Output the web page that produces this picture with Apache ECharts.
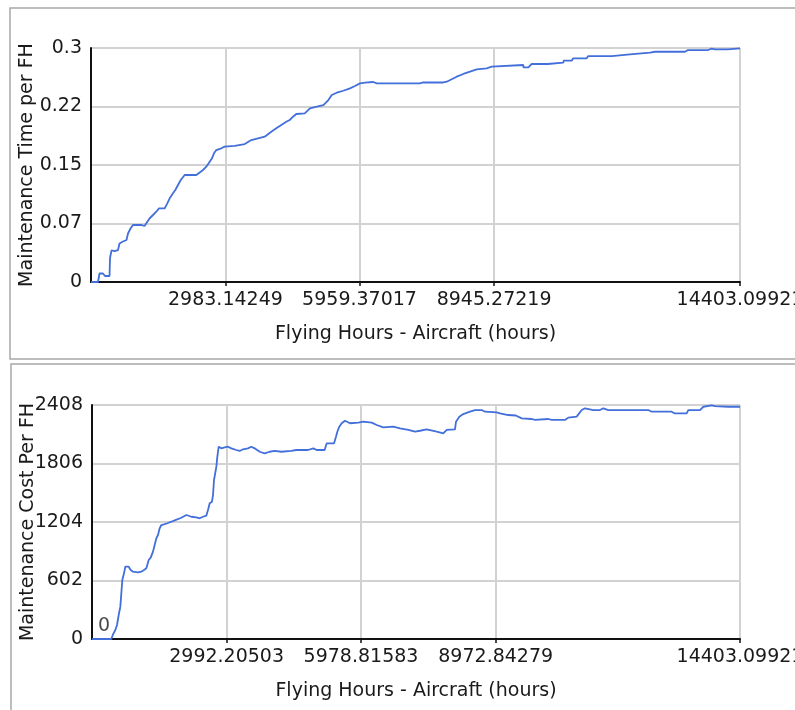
<!DOCTYPE html>
<html>
<head>
<meta charset="utf-8">
<script src="https://cdn.jsdelivr.net/npm/echarts@6/dist/echarts.min.js"></script>
<style>
html,body{margin:0;padding:0;background:#fff;}
#chart{width:795px;height:710px;}
</style>
</head>
<body>
<div id="chart"></div>
<script>
// ---- Data ----
const timeHours = [0,155,189,266,311,411,422,455,522,555,599,633,710,788,821,877,932,1110,1187,1254,1298,1376,1454,1509,1636,1693,1747,1820,1871,1931,1991,2079,2337,2435,2486,2559,2612,2685,2730,2781,2892,2967,3189,3411,3558,3706,3855,4001,4112,4223,4334,4410,4483,4556,4743,4750,4860,5009,5157,5268,5343,5453,5599,5748,5859,5970,6081,6265,6341,7302,7368,7819,7894,8005,8116,8263,8411,8560,8782,8893,8929,9594,9599,9705,9780,10135,10150,10482,10491,10668,10704,11001,11036,11556,11962,12406,12517,13183,13249,13700,13775,13848,14137,14181,14403];
const timeValues = [0,0,0.0109,0.0109,0.0077,0.0077,0.0308,0.0404,0.0397,0.0372,0.0410,0.0494,0.0519,0.0538,0.0622,0.0686,0.0731,0.0731,0.0718,0.0776,0.0814,0.0859,0.0904,0.0945,0.0945,0.1009,0.1073,0.1137,0.1179,0.1244,0.1308,0.1372,0.1372,0.1414,0.1436,0.1478,0.1522,0.1586,0.1650,0.1692,0.1714,0.1735,0.1744,0.1769,0.1820,0.1842,0.1863,0.1927,0.1970,0.2013,0.2055,0.2077,0.2119,0.2154,0.2163,0.2184,0.2227,0.2247,0.2269,0.2333,0.2397,0.2427,0.2452,0.2483,0.2513,0.2547,0.2555,0.2564,0.2547,0.2547,0.2558,0.2558,0.2568,0.2599,0.2632,0.2667,0.2696,0.2727,0.2740,0.2760,0.2773,0.2782,0.2752,0.2752,0.2795,0.2795,0.2812,0.2812,0.2838,0.2838,0.2868,0.2868,0.2897,0.2897,0.2919,0.2940,0.2952,0.2952,0.2974,0.2974,0.2993,0.2983,0.2983,0.2995,0.2995];

const costHours = [0,429,467,519,556,593,630,652,674,711,741,778,815,860,911,1022,1096,1156,1208,1260,1304,1356,1393,1430,1467,1504,1541,1600,1675,1763,1852,1985,2097,2134,2208,2319,2393,2467,2541,2578,2616,2667,2690,2712,2749,2764,2786,2816,2875,2949,3023,3097,3208,3282,3356,3467,3541,3615,3727,3838,3949,4060,4208,4430,4541,4801,4919,4994,5170,5217,5380,5423,5453,5497,5550,5623,5735,5920,6031,6217,6328,6475,6697,6846,7031,7180,7291,7439,7662,7808,7884,8068,8091,8164,8253,8401,8513,8661,8735,8995,9069,9253,9420,9551,9773,9847,10142,10218,10513,10587,10773,10885,10958,11143,11291,11365,11476,12365,12440,12885,12943,13218,13254,13514,13588,13774,13848,14143,14181,14292,14403];
const costValues = [0,0,48,93,144,247,333,470,607,676,744,761,744,710,693,686,693,710,727,813,837,899,967,1036,1070,1139,1173,1180,1191,1207,1224,1248,1276,1276,1258,1252,1242,1258,1269,1327,1396,1413,1482,1636,1654,1773,1876,1979,1962,1973,1979,1962,1945,1935,1952,1962,1979,1962,1927,1911,1927,1935,1927,1935,1945,1945,1962,1945,1945,2014,2014,2082,2133,2185,2220,2246,2220,2226,2236,2226,2202,2178,2185,2168,2151,2133,2143,2158,2133,2117,2151,2158,2236,2288,2315,2339,2356,2356,2339,2333,2322,2305,2300,2271,2264,2254,2264,2254,2254,2278,2288,2356,2374,2356,2356,2374,2356,2356,2339,2339,2322,2322,2356,2356,2390,2405,2397,2390,2374,2390,2390];

const timeXTicks = [2983.14249, 5959.37017, 8945.27219, 14403.09921];
const costXTicks = [2992.20503, 5978.81583, 8972.84279, 14403.09921];
const timeYTickLabels = ['0','0.07','0.15','0.22','0.3'];
const costYTickLabels = ['0','602','1204','1806','2408'];
const xMax = 14403.09921;

// ---- Chart ----
const FONT = 'DejaVu Sans';
const TXT = '#1a1a1a';
const FS = 19;

function pairs(xs, ys){ return xs.map((x,i)=>[x, ys[i]]); }

function xAxis(gridIndex, ticks){
  return {
    type:'value', gridIndex, min:0, max:xMax,
    name:'Flying Hours - Aircraft (hours)', nameLocation:'middle', nameGap:43,
    nameMoveOverlap:false,
    nameTextStyle:{fontFamily:FONT,fontSize:FS,color:TXT},
    axisLine:{show:true,lineStyle:{color:'#111',width:2}},
    axisTick:{show:true,customValues:ticks,length:4,lineStyle:{color:'#111',width:1.5}},
    axisLabel:{customValues:ticks,margin:9,fontFamily:FONT,fontSize:FS,color:TXT,
      hideOverlap:false,formatter:v=>String(v)},
    splitLine:{show:true,lineStyle:{color:'#d2d2d2',width:2}}
  };
}
function yAxis(gridIndex, name, max, interval, labels){
  return {
    type:'value', gridIndex, min:0, max, interval,
    name, nameLocation:'middle', nameGap:54,
    nameMoveOverlap:false,
    nameTextStyle:{fontFamily:FONT,fontSize:FS,color:TXT},
    axisLine:{show:true,lineStyle:{color:'#111',width:2}},
    axisTick:{show:false},
    axisLabel:{margin:9,fontFamily:FONT,fontSize:FS,color:TXT,
      formatter:(v,i)=>labels[i]},
    splitLine:{show:true,lineStyle:{color:'#d2d2d2',width:2}}
  };
}

const chart = echarts.init(document.getElementById('chart'), null, {renderer:'canvas'});
chart.setOption({
  animation:false,
  backgroundColor:'#ffffff',
  textStyle:{fontFamily:FONT},
  graphic:[
    {type:'rect',shape:{x:10,y:8,width:800,height:351},style:{fill:'none',stroke:'#a8a8a8',lineWidth:1.5},silent:true,z:-10},
    {type:'rect',shape:{x:11,y:364,width:800,height:360},style:{fill:'none',stroke:'#a8a8a8',lineWidth:1.5},silent:true,z:-10}
  ],
  grid:[
    {left:91,top:48,width:649,height:234,containLabel:false,outerBoundsMode:'none'},
    {left:92,top:405,width:648,height:234,containLabel:false,outerBoundsMode:'none'}
  ],
  xAxis:[xAxis(0,timeXTicks), xAxis(1,costXTicks)],
  yAxis:[
    yAxis(0,'Maintenance Time per FH',0.3,0.075,timeYTickLabels),
    yAxis(1,'Maintenance Cost Per FH',2408,602,costYTickLabels)
  ],
  series:[
    {type:'line',xAxisIndex:0,yAxisIndex:0,data:pairs(timeHours,timeValues),
      showSymbol:false,symbol:'none',lineStyle:{color:'#426fd9',width:1.8}},
    {type:'line',xAxisIndex:1,yAxisIndex:1,data:pairs(costHours,costValues),
      showSymbol:false,symbol:'none',lineStyle:{color:'#426fd9',width:1.8}},
    {type:'scatter',xAxisIndex:1,yAxisIndex:1,data:[[costHours[0],costValues[0]]],
      symbolSize:0,silent:true,
      label:{show:true,position:'inside',offset:[12,-13],fontFamily:FONT,fontSize:FS,color:'#1a1a1a',
        formatter:p=>String(p.value[1])}}
  ]
});
</script>
</body>
</html>
